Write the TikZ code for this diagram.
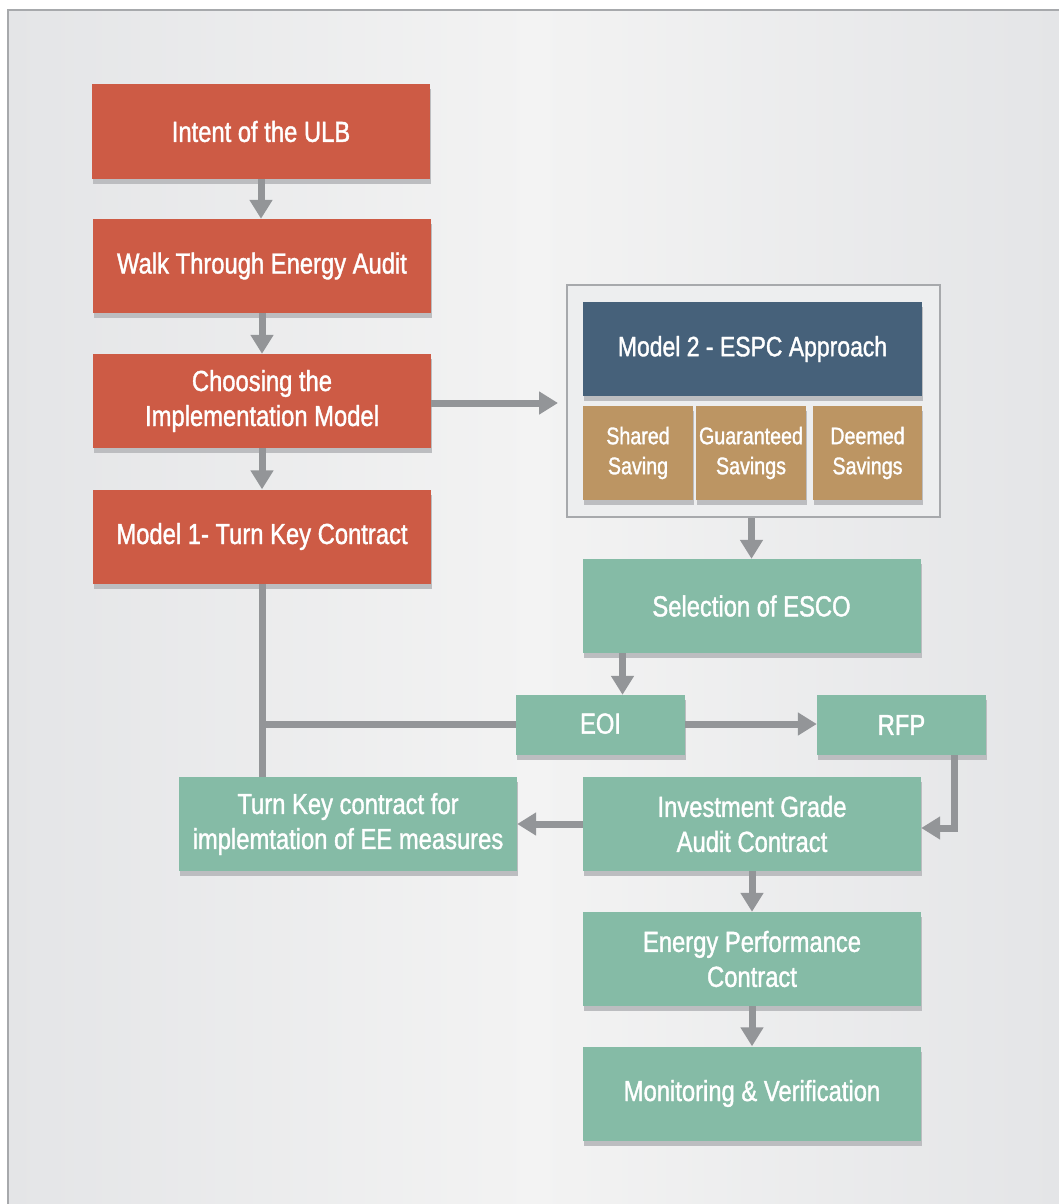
\documentclass[tikz,border=0pt]{standalone}
\usepackage{fontspec}
\setmainfont{Liberation Sans}[FakeStretch=0.82,FakeBold=1.3]
\usetikzlibrary{arrows.meta,shadows,calc}
\definecolor{bgL}{HTML}{E4E5E7}
\definecolor{bgM}{HTML}{F3F3F3}
\definecolor{bgR}{HTML}{E4E5E7}
\definecolor{frameC}{HTML}{A7A9AC}
\definecolor{redC}{HTML}{CD5B45}
\definecolor{blueC}{HTML}{46617A}
\definecolor{brownC}{HTML}{BC9563}
\definecolor{greenC}{HTML}{85BBA6}
\definecolor{arrowC}{HTML}{939598}
\definecolor{shadowC}{HTML}{BCBDC0}
\definecolor{outerC}{HTML}{EDEEEF}
\begin{document}
\begin{tikzpicture}[x=1pt,y=-1pt,
  box/.style={minimum width=338pt, minimum height=94pt, inner sep=0pt, align=center,
    text=white, font=\fontsize{29}{35}\selectfont,
    general shadow={fill=shadowC, shadow xshift=1pt, shadow yshift=-5pt}},
  redbox/.style={box, fill=redC},
  greenbox/.style={box, fill=greenC},
  bluebox/.style={box, fill=blueC, minimum width=339pt, font=\fontsize{28}{34}\selectfont},
  brownbox/.style={box, fill=brownC, minimum width=110pt, font=\fontsize{24}{30}\selectfont},
  smallbox/.style={box, fill=greenC, minimum width=169pt, minimum height=60pt},
  conn/.style={draw=arrowC, line width=7pt},
  arr/.style={conn, -{Triangle[width=22pt,length=19pt]}},
]
\useasboundingbox (0,0) rectangle (1058,1204);
% background panel
\shade[left color=bgL, right color=bgR, middle color=bgM] (8,10) rectangle (1060,1206);
\draw[frameC, line width=2pt] (8,1206) -- (8,10) -- (1060,10);

% left column
\node[redbox] (intent) at (261,131.5) {Intent of the ULB};
\node[redbox] (walk) at (262,266) {Walk Through Energy Audit};
\node[redbox] (choose) at (262,401) {Choosing the\\Implementation Model};
\node[redbox] (model1) at (262,536.5) {Model 1- Turn Key Contract};

% model 2 group
\node[draw=frameC, line width=2pt, fill=outerC, minimum width=373pt, minimum height=232pt, inner sep=0pt] (outer) at (753.5,401) {};
\node[bluebox] (model2) at (752.5,349) {Model 2 - ESPC Approach};
\node[brownbox] (shared) at (638,453) {Shared\\Saving};
\node[brownbox] (guar) at (751,453) {Guaranteed\\Savings};
\node[brownbox, minimum width=109pt] (deemed) at (867.5,453) {Deemed\\Savings};

% right column
\node[greenbox] (esco) at (751.5,606) {Selection of ESCO};
\node[smallbox] (eoi) at (600.5,725) {\raisebox{3pt}{EOI}};
\node[smallbox] (rfp) at (901.5,725) {RFP};
\node[greenbox] (iga) at (752,824) {Investment Grade\\Audit Contract};
\node[greenbox] (turnkey) at (348,824) {Turn Key contract for\\implemtation of EE measures};
\node[greenbox] (epc) at (752,959) {Energy Performance\\Contract};
\node[greenbox] (mv) at (752,1093.5) {Monitoring \& Verification};

% connectors
\draw[arr] (intent.south) -- (intent.south |- walk.north);
\draw[arr] (walk.south) -- (walk.north |- choose.north);
\draw[arr] (choose.south) -- (model1.north);
\draw[arr, shorten >=8pt] ([yshift=-2pt]choose.east) -- ([yshift=-2pt]choose.east -| outer.west);
\draw[arr] (outer.south -| esco.south) -- (esco.north);
\draw[arr] ([xshift=22pt]eoi.north |- esco.south) -- ([xshift=22pt]eoi.north);
\draw[arr] ([yshift=1pt]eoi.east) -- ([yshift=1pt]rfp.west);
\draw[arr] ([xshift=53pt]rfp.south) |- ([yshift=-4pt]iga.east);
\draw[arr] (iga.west) -- (turnkey.east);
\draw[arr] (iga.south) -- (epc.north);
\draw[arr] (epc.south) -- (mv.north);
\draw[conn] (model1.south) -- (model1.south |- turnkey.north);
\draw[conn] ([yshift=1pt]eoi.west -| model1.south) -- ([yshift=1pt]eoi.west);
\end{tikzpicture}
\end{document}
